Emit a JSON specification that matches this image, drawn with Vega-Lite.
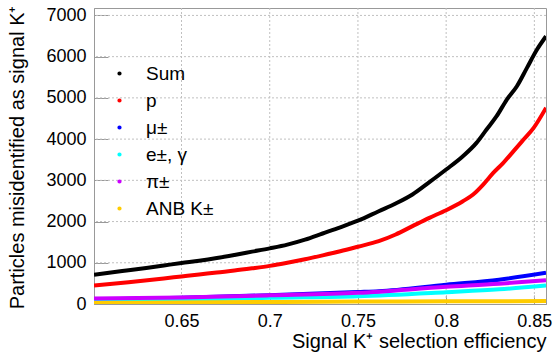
{
  "$schema": "https://vega.github.io/schema/vega-lite/v6.json",
  "autosize": {"type": "none"},
  "padding": {"left": 94, "top": 8, "right": 8, "bottom": 51},
  "width": 452,
  "height": 296,
  "background": "white",
  "config": {
    "font": "Liberation Sans",
    "view": {"stroke": "#999999", "strokeWidth": 1},
    "axis": {
      "domainColor": "#999999",
      "tickColor": "#999999",
      "labelFont": "Liberation Sans",
      "labelFontSize": 18,
      "labelColor": "black",
      "titleFont": "Liberation Sans",
      "titleFontSize": 20,
      "titleFontWeight": "normal",
      "titleColor": "black"
    }
  },
  "layer": [
    {
      "data": {"values": [{"gx": 0.65}, {"gx": 0.7}, {"gx": 0.75}, {"gx": 0.8}, {"gx": 0.85}]},
      "mark": {"type": "rule", "color": "#c0c0c0", "strokeWidth": 1, "strokeDash": [2, 2]},
      "encoding": {
        "x": {
          "field": "gx",
          "type": "quantitative",
          "scale": {"domain": [0.6004, 0.8566], "nice": false, "zero": false},
          "axis": {
            "values": [0.65, 0.7, 0.75, 0.8, 0.85],
            "format": "~g",
            "grid": false,
            "tickSize": -9,
            "labelPadding": 17,
            "title": "Signal K⁺ selection efficiency",
            "titleAnchor": "end",
            "titleAlign": "right",
            "titleBaseline": "alphabetic",
            "titleX": 452,
            "titleY": 43
          }
        }
      }
    },
    {
      "data": {"values": [{"gy": 1000}, {"gy": 2000}, {"gy": 3000}, {"gy": 4000}, {"gy": 5000}, {"gy": 6000}, {"gy": 7000}]},
      "mark": {"type": "rule", "color": "#c0c0c0", "strokeWidth": 1, "strokeDash": [2, 2]},
      "encoding": {
        "y": {
          "field": "gy",
          "type": "quantitative",
          "scale": {"domain": [0, 7180], "nice": false},
          "axis": {
            "values": [0, 1000, 2000, 3000, 4000, 5000, 6000, 7000],
            "format": "d",
            "grid": false,
            "tickSize": -14,
            "labelPadding": 22,
            "title": "Particles misidentified as signal K⁺",
            "titleAnchor": "end",
            "titleAngle": -90,
            "titleAlign": "right",
            "titleBaseline": "middle",
            "titleX": -77,
            "titleY": -3
          }
        }
      }
    },
    {
      "data": {
        "values": [
          {"eff": 0.6004, "n": 708, "type": "Sum"},
          {"eff": 0.61, "n": 765, "type": "Sum"},
          {"eff": 0.62, "n": 820, "type": "Sum"},
          {"eff": 0.63, "n": 875, "type": "Sum"},
          {"eff": 0.64, "n": 935, "type": "Sum"},
          {"eff": 0.65, "n": 995, "type": "Sum"},
          {"eff": 0.66, "n": 1050, "type": "Sum"},
          {"eff": 0.67, "n": 1115, "type": "Sum"},
          {"eff": 0.68, "n": 1190, "type": "Sum"},
          {"eff": 0.69, "n": 1270, "type": "Sum"},
          {"eff": 0.70, "n": 1350, "type": "Sum"},
          {"eff": 0.71, "n": 1440, "type": "Sum"},
          {"eff": 0.72, "n": 1560, "type": "Sum"},
          {"eff": 0.73, "n": 1710, "type": "Sum"},
          {"eff": 0.74, "n": 1860, "type": "Sum"},
          {"eff": 0.75, "n": 2020, "type": "Sum"},
          {"eff": 0.7618, "n": 2251, "type": "Sum"},
          {"eff": 0.7714, "n": 2437, "type": "Sum"},
          {"eff": 0.7809, "n": 2656, "type": "Sum"},
          {"eff": 0.7905, "n": 2955, "type": "Sum"},
          {"eff": 0.80, "n": 3262, "type": "Sum"},
          {"eff": 0.8095, "n": 3585, "type": "Sum"},
          {"eff": 0.8172, "n": 3909, "type": "Sum"},
          {"eff": 0.8229, "n": 4232, "type": "Sum"},
          {"eff": 0.8286, "n": 4555, "type": "Sum"},
          {"eff": 0.8344, "n": 4960, "type": "Sum"},
          {"eff": 0.8401, "n": 5283, "type": "Sum"},
          {"eff": 0.8458, "n": 5728, "type": "Sum"},
          {"eff": 0.8515, "n": 6172, "type": "Sum"},
          {"eff": 0.8566, "n": 6495, "type": "Sum"},
          {"eff": 0.6004, "n": 448, "type": "p"},
          {"eff": 0.62, "n": 530, "type": "p"},
          {"eff": 0.64, "n": 620, "type": "p"},
          {"eff": 0.65, "n": 668, "type": "p"},
          {"eff": 0.66, "n": 715, "type": "p"},
          {"eff": 0.67, "n": 765, "type": "p"},
          {"eff": 0.68, "n": 810, "type": "p"},
          {"eff": 0.69, "n": 865, "type": "p"},
          {"eff": 0.70, "n": 925, "type": "p"},
          {"eff": 0.71, "n": 1000, "type": "p"},
          {"eff": 0.72, "n": 1085, "type": "p"},
          {"eff": 0.73, "n": 1180, "type": "p"},
          {"eff": 0.74, "n": 1280, "type": "p"},
          {"eff": 0.75, "n": 1390, "type": "p"},
          {"eff": 0.7618, "n": 1524, "type": "p"},
          {"eff": 0.7714, "n": 1686, "type": "p"},
          {"eff": 0.7809, "n": 1888, "type": "p"},
          {"eff": 0.7905, "n": 2090, "type": "p"},
          {"eff": 0.80, "n": 2276, "type": "p"},
          {"eff": 0.8095, "n": 2494, "type": "p"},
          {"eff": 0.8153, "n": 2656, "type": "p"},
          {"eff": 0.8210, "n": 2898, "type": "p"},
          {"eff": 0.8267, "n": 3181, "type": "p"},
          {"eff": 0.8324, "n": 3424, "type": "p"},
          {"eff": 0.8382, "n": 3707, "type": "p"},
          {"eff": 0.8439, "n": 3989, "type": "p"},
          {"eff": 0.8496, "n": 4272, "type": "p"},
          {"eff": 0.8566, "n": 4758, "type": "p"},
          {"eff": 0.6004, "n": 110, "type": "μ±"},
          {"eff": 0.65, "n": 150, "type": "μ±"},
          {"eff": 0.70, "n": 215, "type": "μ±"},
          {"eff": 0.75, "n": 290, "type": "μ±"},
          {"eff": 0.7618, "n": 311, "type": "μ±"},
          {"eff": 0.80, "n": 470, "type": "μ±"},
          {"eff": 0.83, "n": 590, "type": "μ±"},
          {"eff": 0.8566, "n": 757, "type": "μ±"},
          {"eff": 0.6004, "n": 77, "type": "e±, γ"},
          {"eff": 0.65, "n": 100, "type": "e±, γ"},
          {"eff": 0.70, "n": 150, "type": "e±, γ"},
          {"eff": 0.75, "n": 189, "type": "e±, γ"},
          {"eff": 0.80, "n": 287, "type": "e±, γ"},
          {"eff": 0.83, "n": 355, "type": "e±, γ"},
          {"eff": 0.8566, "n": 449, "type": "e±, γ"},
          {"eff": 0.6004, "n": 133, "type": "π±"},
          {"eff": 0.65, "n": 160, "type": "π±"},
          {"eff": 0.70, "n": 210, "type": "π±"},
          {"eff": 0.75, "n": 271, "type": "π±"},
          {"eff": 0.80, "n": 416, "type": "π±"},
          {"eff": 0.83, "n": 490, "type": "π±"},
          {"eff": 0.8566, "n": 578, "type": "π±"},
          {"eff": 0.6004, "n": 25, "type": "ANB K±"},
          {"eff": 0.70, "n": 50, "type": "ANB K±"},
          {"eff": 0.75, "n": 60, "type": "ANB K±"},
          {"eff": 0.80, "n": 65, "type": "ANB K±"},
          {"eff": 0.8566, "n": 70, "type": "ANB K±"}
        ]
      },
      "mark": {"type": "line", "strokeWidth": 4, "clip": true, "interpolate": "monotone"},
      "encoding": {
        "x": {
          "field": "eff",
          "type": "quantitative",
          "scale": {"domain": [0.6004, 0.8566], "nice": false, "zero": false},
          "axis": {
            "values": [0.65, 0.7, 0.75, 0.8, 0.85],
            "format": "~g",
            "grid": false,
            "tickSize": -9,
            "labelPadding": 17,
            "title": "Signal K⁺ selection efficiency",
            "titleAnchor": "end",
            "titleAlign": "right",
            "titleBaseline": "alphabetic",
            "titleX": 452,
            "titleY": 43
          }
        },
        "y": {
          "field": "n",
          "type": "quantitative",
          "scale": {"domain": [0, 7180], "nice": false},
          "axis": {
            "values": [0, 1000, 2000, 3000, 4000, 5000, 6000, 7000],
            "format": "d",
            "grid": false,
            "tickSize": -14,
            "labelPadding": 22,
            "title": "Particles misidentified as signal K⁺",
            "titleAnchor": "end",
            "titleAngle": -90,
            "titleAlign": "right",
            "titleBaseline": "middle",
            "titleX": -77,
            "titleY": -3
          }
        },
        "color": {
          "field": "type",
          "type": "nominal",
          "sort": ["Sum", "p", "μ±", "e±, γ", "π±", "ANB K±"],
          "scale": {
            "domain": ["Sum", "p", "μ±", "e±, γ", "π±", "ANB K±"],
            "range": ["#000000", "#ff0000", "#0000ff", "#00ffff", "#cc00ff", "#ffcc00"]
          },
          "legend": {
            "orient": "none",
            "legendX": 16,
            "legendY": 56,
            "title": null,
            "symbolType": "circle",
            "symbolSize": 5,
            "symbolStrokeWidth": 2,
            "labelFontSize": 19,
            "labelFont": "Liberation Sans",
            "labelColor": "black",
            "labelOffset": 17,
            "rowPadding": 7
          }
        }
      }
    }
  ]
}
